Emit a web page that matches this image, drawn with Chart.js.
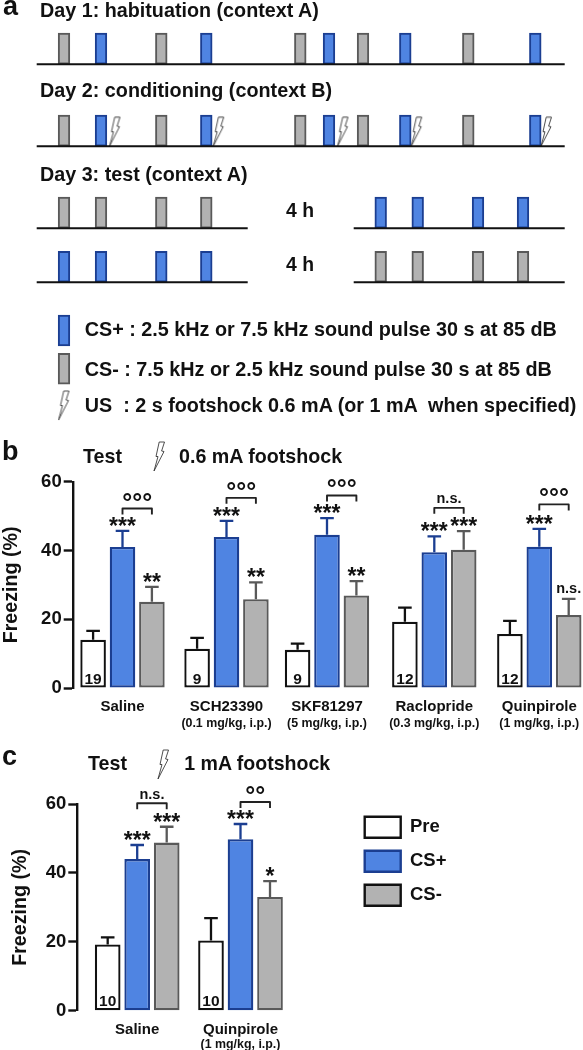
<!DOCTYPE html>
<html><head><meta charset="utf-8">
<style>
html,body{margin:0;padding:0;background:#fff;width:583px;height:1050px;overflow:hidden}
canvas{position:absolute;left:0;display:block}
.t{position:absolute;font-family:"Liberation Sans",Arial,sans-serif;font-weight:bold;color:#111;line-height:1;white-space:pre}
</style>
<script src="https://cdn.jsdelivr.net/npm/chart.js@4/dist/chart.umd.min.js"></script>
</head><body>
<canvas id="pa" width="583" height="436" style="top:0"></canvas>
<canvas id="pb" width="583" height="300" style="top:438px"></canvas>
<canvas id="pc" width="583" height="312" style="top:738px"></canvas>
<script>
// ---------- panel a: protocol timelines (session time, arbitrary units; rows are levels) ----------
const day1Minus=[64,161.3,300.3,363,468.3];
const day1Plus=[101,206.3,329,405.3,535.3];
const shockTimes=[115,218.7,343,416.7,546.5];
const test1=[64,101,161.3,206.3];
const test2=[380.7,417.7,478,523];
const sessionSpans=[[36.7,564.7],[36.7,564.7],[36.7,247.7],[353.7,564.7],[36.7,247.7],[353.7,564.7]];
const spanRows=[0,3,6,6,7.98,7.98];
const keyPlusLevel=10.31,keyMinusLevel=11.71,keyShockLevel=12.49;

// ---------- panel b ----------
const groupsB=['Saline','SCH23390','SKF81297','Raclopride','Quinpirole'];
const dosesB=['','(0.1 mg/kg, i.p.)','(5 mg/kg, i.p.)','(0.3 mg/kg, i.p.)','(1 mg/kg, i.p.)'];
const preB=[14.05,11.4,11.1,19.3,15.7];
const preTopB=[16.6,14.6,12.9,23.4,19.5];
const plusB=[41,43.9,44.6,39.5,41.1];
const plusTopB=[45.7,48.6,49.4,44.1,46.3];
const minusB=[25.1,25.8,26.9,40.2,21.2];
const minusTopB=[29.4,30.7,31.1,45.6,25.9];
const nB=['19','9','9','12','12'];
const plusMarkB=['***','***','***','***','***'];
const minusMarkB=['**','**','**','***','n.s.'];
const bracketB=[52.2,55.3,56,52.4,53.4];
const bracketMarkB=['°°°','°°°','°°°','n.s.','°°°'];

// ---------- panel c ----------
const groupsC=['Saline','Quinpirole'];
const dosesC=['','(1 mg/kg, i.p.)'];
const preC=[19.2,20.4];
const preTopC=[21.3,26.9];
const plusC=[44,49.8];
const plusTopC=[48.1,54.2];
const minusC=[48.8,33];
const minusTopC=[53.4,37.6];
const nC=['10','10'];
const plusMarkC=['***','***'];
const minusMarkC=['***','*'];
const bracketC=[60.2,60.6];
const bracketMarkC=['n.s.','°°'];

// ---------- styles ----------
const FONT='"Liberation Sans", Arial, sans-serif';
Chart.defaults.font.family=FONT;
Chart.defaults.color='#111';
Chart.defaults.animation=false;
const BLUE='#4F84E2',BLUE_D='#1B3E91',GRAY='#B2B2B2',GRAY_D='#595959',INK='#111';

function boltCanvas(){
  const c=document.createElement('canvas');
  c.width=13;c.height=31;
  const g=c.getContext('2d');
  g.beginPath();
  [[6.2,1],[11.5,1],[8.6,10],[11,10.5],[1,30],[5,15.5],[3,15.5]].forEach((p,i)=>i?g.lineTo(p[0],p[1]):g.moveTo(p[0],p[1]));
  g.closePath();g.fillStyle='#fff';g.fill();g.strokeStyle='#222';g.lineWidth=.8;g.stroke();
  return c;
}
const bolt=boltCanvas();

// ---------- panel a chart ----------
const H=31/27.33;
const pulse=(t,l)=>({x:t,y:[l-H,l]});
const baseline=[];
sessionSpans.forEach((s,i)=>{baseline.push({x:s[0],y:spanRows[i]},{x:s[1],y:spanRows[i]},{x:null,y:null});});
const pulseStyle={borderWidth:2,barThickness:11.7,grouped:false,borderSkipped:false,order:1};
new Chart(document.getElementById('pa'),{
  type:'bar',
  data:{datasets:[
    {type:'line',label:'Session',data:baseline,borderColor:INK,borderWidth:2,pointRadius:0,spanGaps:false,order:0},
    {type:'line',label:'US',data:shockTimes.map(t=>({x:t,y:3-.53})).concat([{x:64,y:keyShockLevel}]),showLine:false,pointStyle:bolt,pointRadius:10,order:0},
    Object.assign({label:'CS+',backgroundColor:BLUE,borderColor:BLUE_D,
     data:[...day1Plus.map(t=>pulse(t,0)),...day1Plus.map(t=>pulse(t,3)),...test2.map(t=>pulse(t,6)),...test1.map(t=>pulse(t,7.98)),pulse(64,keyPlusLevel)]},pulseStyle),
    Object.assign({label:'CS-',backgroundColor:GRAY,borderColor:GRAY_D,
     data:[...day1Minus.map(t=>pulse(t,0)),...day1Minus.map(t=>pulse(t,3)),...test1.map(t=>pulse(t,6)),...test2.map(t=>pulse(t,7.98)),pulse(64,keyMinusLevel)]},pulseStyle)
  ]},
  options:{responsive:false,maintainAspectRatio:false,layout:{padding:0,autoPadding:false},
    plugins:{legend:{display:false},tooltip:{enabled:false}},
    scales:{
      x:{type:'linear',min:0,max:583,display:false,offset:false},
      y:{type:'linear',reverse:true,min:-64.2/27.33,max:371.8/27.33,display:false}
    }}
});

// ---------- bar panels ----------
function annotPlugin(cfg){
  return {id:'annot',afterDatasetsDraw(chart){
    const g=chart.ctx,ys=chart.scales.y,m=i=>chart.getDatasetMeta(i).data;
    const tops=[cfg.preTop,cfg.plusTop,cfg.minusTop],cols=[INK,BLUE_D,GRAY_D];
    g.save();
    tops.forEach((arr,d)=>{
      m(d).forEach((bar,i)=>{
        const yT=ys.getPixelForValue(arr[i]),yB=bar.y;
        g.strokeStyle=cols[d];g.lineWidth=2.3;g.beginPath();
        g.moveTo(bar.x,yB);g.lineTo(bar.x,yT);
        g.moveTo(bar.x-6.8,yT);g.lineTo(bar.x+6.8,yT);g.stroke();
      });
    });
    g.textAlign='center';g.fillStyle=INK;g.textBaseline='alphabetic';
    const mark=(s,x,yT)=>{
      if(s==='n.s.'){g.font='bold 14.5px '+FONT;g.fillText(s,x,yT-6);}
      else{g.font='bold 23px '+FONT;g.fillText(s,x,yT+2.8);}
    };
    m(1).forEach((bar,i)=>mark(cfg.plusMark[i],bar.x,ys.getPixelForValue(cfg.plusTop[i])));
    m(2).forEach((bar,i)=>mark(cfg.minusMark[i],bar.x,ys.getPixelForValue(cfg.minusTop[i])));
    m(0).forEach((bar,i)=>{g.font='bold 15.5px '+FONT;g.fillText(cfg.n[i],bar.x,ys.getPixelForValue(0)-4.5);});
    m(1).forEach((bar,i)=>{
      const x1=bar.x,x2=m(2)[i].x,y=ys.getPixelForValue(cfg.bracket[i]);
      g.strokeStyle='#222';g.lineWidth=1.9;g.lineJoin='round';g.beginPath();
      g.moveTo(x1,y+6);g.lineTo(x1,y);g.lineTo(x2,y);g.lineTo(x2,y+6);g.stroke();
      const s=cfg.bracketMark[i],cx=(x1+x2)/2;
      if(s==='n.s.'){g.font='bold 14.5px '+FONT;g.fillText(s,cx,y-4.5);}
      else{g.font='bold 25px '+FONT;g.fillText(s,cx,y+2);}
    });
    g.restore();
  }};
}
// The reference groups are not evenly spaced, so the category axis is given its group centres.
function placed(centres){return function(s){
  s.getPixelForValue=function(v){return centres[Math.round(v)];};
};}
function barPanel(id,c){
  const scales={
    x:{type:'category',offset:true,beforeUpdate:placed(c.centres),afterFit(s){s.height=c.xH;},
       border:{display:false},grid:{display:false,drawTicks:false},
       ticks:{autoSkip:false,maxRotation:0,padding:c.xPad,color:INK,font:{size:15,weight:'bold'}}},
    x2:{type:'category',offset:true,position:'bottom',labels:c.doses,beforeUpdate:placed(c.centres),afterFit(s){s.height=c.x2H;},
       border:{display:false},grid:{display:false,drawTicks:false},
       ticks:{autoSkip:false,maxRotation:0,padding:c.x2Pad,color:INK,font:{size:12.4,weight:'bold'}}},
    y:{type:'linear',min:0,max:60,afterFit(s){s.width=c.left;},
       border:{display:true,color:INK,width:2.4},
       grid:{drawOnChartArea:false,drawTicks:true,tickLength:9,tickColor:INK,tickWidth:2.4},
       ticks:{stepSize:20,padding:2,color:INK,font:{size:18.5,weight:'bold'}},
       title:{display:true,text:'Freezing (%)',color:INK,font:{size:19.7,weight:'bold'},padding:{top:c.titleTop,bottom:0}}}
  };
  const common={categoryPercentage:c.cp,barPercentage:.87,borderWidth:2.3,borderSkipped:false,clip:false};
  const legend=c.legend?{display:true,position:'chartArea',align:'start',
      labels:{boxWidth:36,boxHeight:21,padding:13,color:INK,font:{size:18.5,weight:'bold'},
        generateLabels(ch){return Chart.defaults.plugins.legend.labels.generateLabels(ch).map((it,i)=>Object.assign(it,{strokeStyle:[INK,BLUE_D,INK][i],lineWidth:2.4}));}}}
    :{display:false};
  const plugins=[annotPlugin(c)];
  if(c.legend)plugins.push({id:'legendPlace',afterLayout(ch){
    const l=ch.legend,pad=13,w=l.width,h=l.height;
    l.left=c.legend.x-pad;l.top=c.legend.y-pad;l.right=l.left+w;l.bottom=l.top+h;
  }});
  return new Chart(document.getElementById(id),{
    type:'bar',
    data:{labels:c.groups,datasets:[
      Object.assign({label:'Pre',data:c.pre,backgroundColor:'#fff',borderColor:INK},common),
      Object.assign({label:'CS+',data:c.plus,backgroundColor:BLUE,borderColor:BLUE_D},common),
      Object.assign({label:'CS-',data:c.minus,backgroundColor:GRAY,borderColor:GRAY_D},common)
    ]},
    options:{responsive:false,maintainAspectRatio:false,
      layout:{padding:{top:c.top,right:c.right,left:0,bottom:0},autoPadding:false},
      plugins:{legend,tooltip:{enabled:false}},scales},
    plugins
  });
}
barPanel('pb',{groups:groupsB,doses:dosesB,pre:preB,plus:plusB,minus:minusB,preTop:preTopB,plusTop:plusTopB,minusTop:minusTopB,
  n:nB,plusMark:plusMarkB,minusMark:minusMarkB,bracket:bracketB,bracketMark:bracketMarkB,
  left:72.7,top:43.7,right:.3,xH:27,x2H:23,xPad:10,x2Pad:1,titleTop:0,cp:.8776,centres:[122.5,226.5,327,434.3,539.3]});
barPanel('pc',{groups:groupsC,doses:dosesC,pre:preC,plus:plusC,minus:minusC,preTop:preTopC,plusTop:plusTopC,minusTop:minusTopC,
  n:nC,plusMark:plusMarkC,minusMark:minusMarkC,bracket:bracketC,bracketMark:bracketMarkC,
  left:77.3,top:66,right:299.1,xH:26,x2H:13.3,xPad:10,x2Pad:0,titleTop:9,cp:.857,centres:[137.2,240.5],
  legend:{x:364.7,y:78.7}});

// ---------- headings ----------
const headings=[
 ['Day 1: habituation (context A)',40,17.3,279.7],
 ['Day 2: conditioning (context B)',40,97.3,292.3],
 ['Day 3: test (context A)',40,181.7,208.3],
 ['4 h',286,217.3,28],
 ['4 h',286,271,28],
 ['CS+ : 2.5 kHz or 7.5 kHz sound pulse 30 s at 85 dB',84.7,336.7,472.6],
 ['CS- : 7.5 kHz or 2.5 kHz sound pulse 30 s at 85 dB',84.7,376,467.6],
 ['US  : 2 s footshock 0.6 mA (or 1 mA  when specified)',84.7,412.3,493.3],
 ['Test',83,463,39],
 ['0.6 mA footshock',179,463,164],
 ['Test',88,770.7,39],
 ['1 mA footshock',184.3,770.7,146.7]
];
const letters=[['a',3,15],['b',2,460],['c',2,765]];
const mc=document.createElement('canvas').getContext('2d');
function put(txt,x,base,size){
  const d=document.createElement('div');d.className='t';d.textContent=txt;
  d.style.left=x+'px';d.style.top=(base-.83*size)+'px';d.style.fontSize=size+'px';
  document.body.appendChild(d);
}
mc.font='bold 100px "Liberation Sans"';
headings.forEach(h=>put(h[0],h[1],h[2],h[3]/mc.measureText(h[0]).width*100));
letters.forEach(l=>put(l[0],l[1],l[2],27));
[[152.5,441],[157,749]].forEach(p=>{
  const c=boltCanvas();c.style.left=p[0]+'px';c.style.top=p[1]+'px';document.body.appendChild(c);
});
</script>
</body></html>
